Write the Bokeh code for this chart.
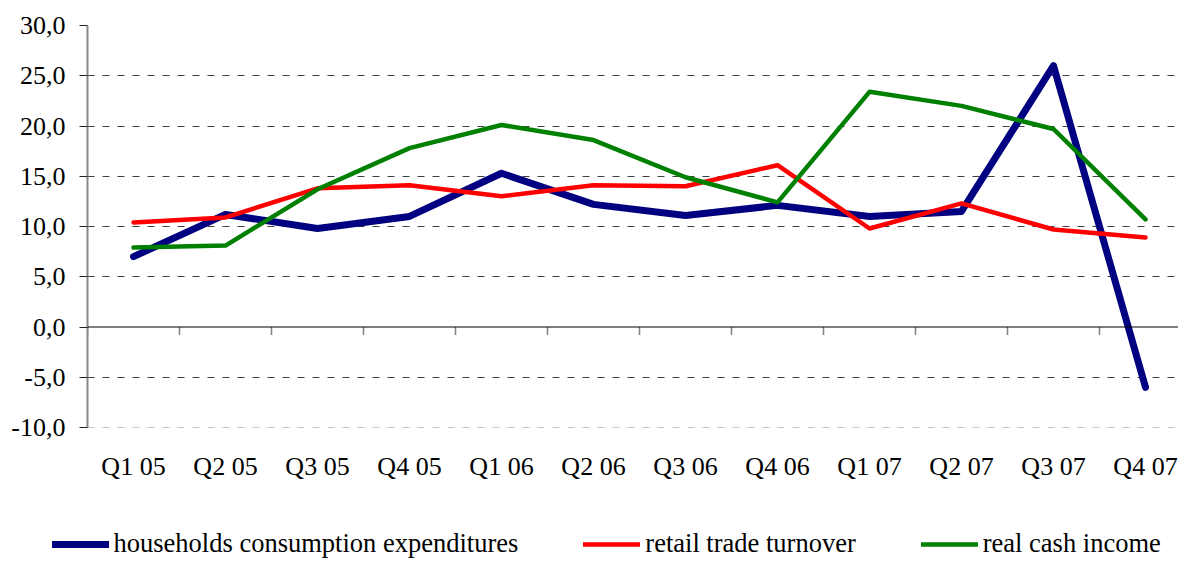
from bokeh.plotting import figure
from bokeh.layouts import column
from bokeh.models import (FixedTicker, CustomJSTickFormatter, Span, Legend, LegendItem)
from bokeh.embed import file_html
from bokeh.resources import INLINE

quarters = ["Q1 05", "Q2 05", "Q3 05", "Q4 05", "Q1 06", "Q2 06",
            "Q3 06", "Q4 06", "Q1 07", "Q2 07", "Q3 07", "Q4 07"]
households = [7.0, 11.2, 9.8, 11.0, 15.3, 12.2, 11.1, 12.1, 11.0, 11.5, 26.0, -6.0]
retail = [10.4, 10.9, 13.8, 14.1, 13.0, 14.1, 14.0, 16.1, 9.8, 12.3, 9.7, 8.9]
income = [7.9, 8.1, 13.7, 17.8, 20.1, 18.6, 14.9, 12.4, 23.4, 22.0, 19.7, 10.7]
y_ticks = [-10, -5, 0, 5, 10, 15, 20, 25, 30]
series_names = ["households consumption expenditures", "retail trade turnover", "real cash income"]
series_colors = ["#000080", "#FF0000", "#008000"]
series_widths = [7, 4.5, 4.5]
series_values = [households, retail, income]

FONT = "Liberation Serif"
W, H_MAIN, H_LEG = 1178, 500, 61
LEFT = 87
CAT_PX = 92.0
frame_w = W - LEFT
x = [i + 0.5 for i in range(len(quarters))]

p = figure(width=W, height=H_MAIN, output_backend="svg", toolbar_location=None,
           x_range=(0, frame_w / CAT_PX), y_range=(-10, 30),
           min_border_left=LEFT, min_border_right=0, min_border_top=25,
           min_border_bottom=H_MAIN - 427)
p.frame_align = False
p.outline_line_color = None
p.background_fill_color = "white"

# y axis
p.yaxis.ticker = FixedTicker(ticks=y_ticks)
p.yaxis.formatter = CustomJSTickFormatter(code="return tick.toFixed(1).replace('.', ',');")
p.yaxis.axis_line_color = "#888888"
p.yaxis.axis_line_width = 2
p.yaxis.major_tick_line_color = "#222222"
p.yaxis.major_tick_out = 8
p.yaxis.major_tick_in = 0
p.yaxis.minor_tick_line_color = None
p.yaxis.major_label_standoff = 14
p.yaxis.major_label_text_font = FONT
p.yaxis.major_label_text_font_size = "26px"
p.yaxis.major_label_text_color = "black"

# x axis (labels only, at the bottom)
p.xaxis.ticker = FixedTicker(ticks=x)
p.xaxis.formatter = CustomJSTickFormatter(args=dict(labels=quarters),
                                          code="return labels[Math.floor(tick)];")
p.xaxis.axis_line_color = None
p.xaxis.major_tick_line_color = None
p.xaxis.minor_tick_line_color = None
p.xaxis.major_tick_out = 0
p.xaxis.major_tick_in = 0
p.xaxis.major_label_standoff = 24
p.xaxis.major_label_text_font = FONT
p.xaxis.major_label_text_font_size = "26px"
p.xaxis.major_label_text_color = "black"

# grids
p.xgrid.grid_line_color = None
p.ygrid.ticker = FixedTicker(ticks=[t for t in y_ticks if t not in (-10, 0)])
p.ygrid.grid_line_color = "#404040"
p.ygrid.grid_line_dash = "7 8"
p.ygrid.grid_line_width = 1

p.add_layout(Span(location=y_ticks[0], dimension="width", line_color="#8a8a8a",
                  line_dash="7 8", line_width=1))
p.add_layout(Span(location=0, dimension="width", line_color="black", line_width=1))
# category boundary tick marks on the zero line
bounds = list(range(len(quarters)))
p.segment(x0=bounds, y0=[0] * len(bounds), x1=bounds, y1=[-0.8] * len(bounds),
          line_color="#808080", line_width=1.5)

for vals, c, w in zip(series_values, series_colors, series_widths):
    p.line(x, vals, line_color=c, line_width=w, line_cap="round", line_join="round")

# legend strip (its own lines are off-range; only the legend shows)
pl = figure(width=W, height=H_LEG, output_backend="svg", toolbar_location=None,
            x_axis_type=None, y_axis_type=None, x_range=(0, 1), y_range=(1000, 1001),
            min_border=0)
pl.frame_align = False
pl.outline_line_color = None
pl.xgrid.visible = False
pl.ygrid.visible = False
items = []
for n, vals, c, w in zip(series_names, series_values, series_colors, series_widths):
    r = pl.line(x, vals, line_color=c, line_width=w, line_cap="round", line_join="round")
    items.append(LegendItem(label=n, renderers=[r]))
lg = Legend(items=items, location=(51.5, 2), orientation="horizontal",
            border_line_color=None, background_fill_alpha=0, padding=0, margin=0,
            spacing=65, glyph_width=57, glyph_height=26, label_height=26,
            label_standoff=5, label_text_font=FONT,
            label_text_font_size="26.5px", label_text_color="black")
pl.add_layout(lg)

layout = column(p, pl, spacing=0)
open("out.html", "w").write(file_html(layout, INLINE))
